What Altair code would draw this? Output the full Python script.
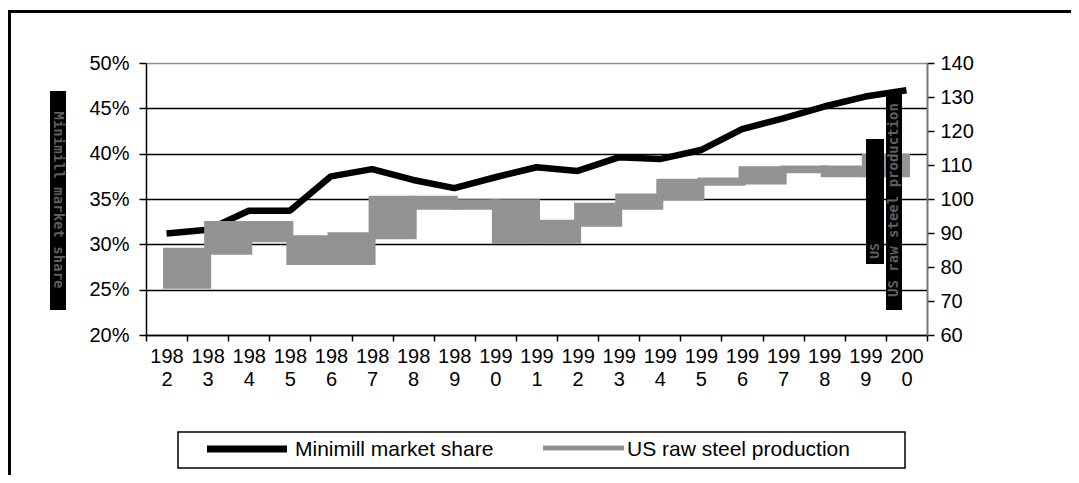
import altair as alt
import pandas as pd

# ---- data ----
years = list(range(1982, 2001))
minimill_share = [0.312, 0.316, 0.337, 0.337, 0.375, 0.383, 0.371, 0.362, 0.374,
                  0.385, 0.381, 0.396, 0.394, 0.404, 0.427, 0.439, 0.452, 0.463, 0.470]
steel_production = [74.6, 84.6, 92.5, 88.3, 81.6, 89.2, 99.9, 97.9, 98.9,
                    87.9, 92.9, 97.9, 100.6, 104.9, 105.3, 108.6, 108.8, 107.4, 112.2]
left_ticks = [0.20, 0.25, 0.30, 0.35, 0.40, 0.45, 0.50]
right_ticks = [60, 70, 80, 90, 100, 110, 120, 130, 140]
series_names = ["Minimill market share", "US raw steel production"]

W, H = 781, 272
FONT = "Liberation Sans"
GRAY = "#939393"

share_df = pd.DataFrame({"year": years, "share": minimill_share})
seg_df = pd.DataFrame({
    "x": years[:-1],
    "x2": years[1:],
    "lo": [min(a, b) for a, b in zip(steel_production[:-1], steel_production[1:])],
    "hi": [max(a, b) for a, b in zip(steel_production[:-1], steel_production[1:])],
})
one = pd.DataFrame({"a": [0]})

x_scale = alt.Scale(domain=[years[0] - 0.5, years[-1] + 0.5], nice=False, zero=False)
x_axis = alt.Axis(
    values=[y - 0.5 for y in years] + [years[-1] + 0.5],
    title=None, grid=False,
    tickSize=6, tickWidth=1.5, tickColor="black",
    domainColor="black", domainWidth=1.5,
    labelOffset=W / len(years) / 2, labelAlign="center", labelBaseline="top",
    labelPadding=5, labelLineHeight=23, labelOverlap=False, labelBound=False,
    labelFlush=False, labelFontSize=20, labelColor="black", labelFont=FONT,
    labelExpr=("datum.value > %d ? '' : [substring(toString(datum.value + 0.5), 0, 3), "
               "substring(toString(datum.value + 0.5), 3)]" % years[-1]),
)

line = alt.Chart(share_df).mark_line(
    color="black", strokeWidth=6.5, strokeJoin="bevel", strokeCap="butt"
).encode(
    x=alt.X("year:Q", scale=x_scale, axis=x_axis),
    y=alt.Y("share:Q", scale=alt.Scale(domain=[0.2, 0.5], nice=False, zero=False),
            axis=alt.Axis(values=left_ticks, format=".0%", title=None,
                          tickSize=7, tickWidth=1.5, tickColor="black",
                          domainColor="black", domainWidth=1.5,
                          labelPadding=10, labelFontSize=20, labelColor="black", labelFont=FONT,
                          grid=True, gridWidth=1.5,
                          gridColor={"condition": {"test": "datum.value >= 0.5", "value": "#8c8c8c"},
                                     "value": "black"})),
)

blocks = alt.Chart(seg_df).mark_rect(fill=GRAY, stroke=GRAY, strokeWidth=7).encode(
    x=alt.X("x:Q", scale=x_scale, axis=x_axis),
    x2="x2:Q",
    y=alt.Y("lo:Q", scale=alt.Scale(domain=[60, 140], nice=False, zero=False),
            axis=alt.Axis(values=right_ticks, title=None, orient="right",
                          tickSize=7, tickWidth=1.5, tickColor="black",
                          domainColor="#777777", domainWidth=2,
                          labelPadding=6, labelFontSize=20, labelColor="black", labelFont=FONT,
                          grid=False)),
    y2="hi:Q",
)

def box(x1, x2, y1, y2, **kw):
    return alt.Chart(one).mark_rect(**kw).encode(
        x=alt.value(x1), x2=alt.value(x2), y=alt.value(y1), y2=alt.value(y2))

def rule(x1, x2, y1, y2, **kw):
    return alt.Chart(one).mark_rule(**kw).encode(
        x=alt.value(x1), x2=alt.value(x2), y=alt.value(y1), y2=alt.value(y2))

def label(x, y, txt, **kw):
    return alt.Chart(one).mark_text(**kw).encode(
        x=alt.value(x), y=alt.value(y), text=alt.value(txt))

# vertical "axis title" bars as in the reference
left_bar = box(-96, -80, 28, 247, color="black")
left_txt = label(-88, 137, series_names[0], angle=90, font="DejaVu Sans Mono",
                 fontSize=14, fontWeight="bold", color="#5f5f5f")
right_bar1 = box(720, 738, 76, 201, color="black")
right_txt1 = label(729, 188, "US", angle=270, font="DejaVu Sans Mono",
                   fontSize=13, fontWeight="bold", color="#5f5f5f")
right_bar2 = box(740, 756, 28, 247, color="black")
right_txt2 = label(748, 137, series_names[1], angle=270, font="DejaVu Sans Mono",
                   fontSize=14, fontWeight="bold", color="#5f5f5f")

# legend
leg_box = box(32, 759, 369, 405, fill="white", stroke="black", strokeWidth=1.5)
leg_sym1 = rule(61, 141, 386, 386, color="black", strokeWidth=7)
leg_txt1 = label(149, 387, series_names[0], align="left", baseline="middle",
                 font=FONT, fontSize=21, color="black")
leg_sym2 = rule(397, 478, 385, 385, color=GRAY, strokeWidth=5)
leg_txt2 = label(481, 387, series_names[1], align="left", baseline="middle",
                 font=FONT, fontSize=21, color="black")

# outer frame
frame_top = rule(-140, 930, -51.5, -51.5, color="black", strokeWidth=3)
frame_left = rule(-136.5, -136.5, -53, 440, color="black", strokeWidth=3)

chart = alt.layer(
    line, blocks,
    left_bar, left_txt, right_bar1, right_txt1, right_bar2, right_txt2,
    leg_box, leg_sym1, leg_txt1, leg_sym2, leg_txt2,
    frame_top, frame_left,
).resolve_scale(y="independent").properties(
    width=W, height=H,
    autosize=alt.AutoSizeParams(type="none"),
    padding={"left": 138, "top": 55, "right": 144, "bottom": 140},
).configure_view(stroke=None).configure(background="white")

chart.save("out.html", embed_options={"renderer": "svg", "actions": False})
